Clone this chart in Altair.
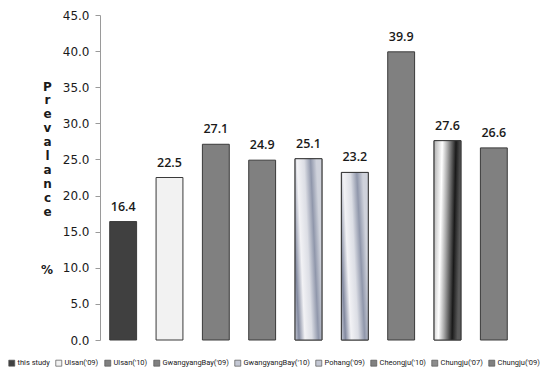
import altair as alt
import pandas as pd

categories = ["this study", "Ulsan('09)", "Ulsan('10)", "GwangyangBay('09)", "GwangyangBay('10)",
              "Pohang('09)", "Cheongju('10)", "Chungju('07)", "Chungju('09)"]
values = [16.4, 22.5, 27.1, 24.9, 25.1, 23.2, 39.9, 27.6, 26.6]
colors = ["#404040", "#f2f2f2", "#808080", "#808080", "#c4c8d4", "#c4c8d4", "#808080", "#8c8c8c", "#808080"]
blue_grad = ["GwangyangBay('10)", "Pohang('09)"]
bw_grad = ["Chungju('07)"]
y_ticks = [0, 5, 10, 15, 20, 25, 30, 35, 40, 45]
y_title = ["P", "r", "e", "v", "a", "l", "a", "n", "c", "e"]
y_title_unit = "%"

df = pd.DataFrame({"cat": categories, "val": values})

x_enc = alt.X("cat:N", sort=categories, axis=None,
              scale=alt.Scale(paddingInner=0.42, paddingOuter=0.21))
y_enc = alt.Y("val:Q", scale=alt.Scale(domain=[0, 45], nice=False),
              axis=alt.Axis(values=y_ticks, format=".1f", grid=False, labelOverlap=False,
                            domainColor="#9a9a9a", tickColor="#9a9a9a", tickSize=5,
                            labelFont="DejaVu Sans", labelFontSize=12, labelColor="#1a1a1a",
                            labelPadding=6,
                            title=y_title,
                            titleAngle=0, titleX=-53, titleY=66, titleAlign="center",
                            titleBaseline="top", titleLineHeight=13.9, titleFont="DejaVu Sans",
                            titleFontSize=12, titleFontWeight="bold", titleColor="#1a1a1a"))

base = alt.Chart(df).mark_bar(stroke="#3a3a3a", strokeWidth=1).encode(
    x=x_enc, y=y_enc,
    color=alt.Color("cat:N", sort=categories,
                    scale=alt.Scale(domain=categories, range=colors),
                    legend=alt.Legend(title=None, orient="none", legendX=-92, legendY=344,
                                      direction="horizontal", columns=9, columnPadding=4,
                                      symbolType="square", symbolSize=36, symbolStrokeColor="#555",
                                      symbolStrokeWidth=0.7, labelOffset=2,
                                      labelFont="Roboto", labelFontSize=7.5,
                                      labelColor="#1a1a1a"))
)

blue = alt.Chart(df).transform_filter(
    alt.FieldOneOfPredicate(field="cat", oneOf=blue_grad)
).mark_bar(stroke="#3a3a3a", strokeWidth=1,
           fill=alt.LinearGradient(gradient="linear", x1=0, y1=1, x2=1, y2=0.7,
                                   stops=[alt.GradientStop(offset=0, color="#c4c8d4"),
                                          alt.GradientStop(offset=0.14, color="#838aa0"),
                                          alt.GradientStop(offset=0.34, color="#f2f2f5"),
                                          alt.GradientStop(offset=0.58, color="#dcdee5"),
                                          alt.GradientStop(offset=0.8, color="#9097ab"),
                                          alt.GradientStop(offset=1, color="#cfd2db")])
).encode(x=x_enc, y=y_enc)

bw = alt.Chart(df).transform_filter(
    alt.FieldOneOfPredicate(field="cat", oneOf=bw_grad)
).mark_bar(stroke="#3a3a3a", strokeWidth=1,
           fill=alt.LinearGradient(gradient="linear", x1=0, y1=0, x2=1, y2=0.15,
                                   stops=[alt.GradientStop(offset=0, color="#b0b0b0"),
                                          alt.GradientStop(offset=0.3, color="#ffffff"),
                                          alt.GradientStop(offset=0.5, color="#a8a8a8"),
                                          alt.GradientStop(offset=0.8, color="#1a1a1a"),
                                          alt.GradientStop(offset=1, color="#5a5a5a")])
).encode(x=x_enc, y=y_enc)

labels = alt.Chart(df).mark_text(dy=-15, font="Open Sans", fontSize=12.5, fontWeight=600,
                                 color="#1a1a1a").encode(
    x=x_enc, y=y_enc, text=alt.Text("val:Q", format=".1f"))

unit = alt.Chart(pd.DataFrame({"t": [y_title_unit]})).mark_text(
    font="DejaVu Sans", fontSize=12, fontWeight="bold", color="#1a1a1a",
    align="center", baseline="middle"
).encode(text="t:N", x=alt.value(-53), y=alt.value(255))

chart = alt.layer(base, blue, bw, labels, unit).properties(
    width=417, height=325,
    autosize=alt.AutoSizeParams(type="none"),
    padding={"left": 100, "top": 15, "right": 31, "bottom": 36},
    background="white"
).configure_view(stroke=None)

chart.save("out.html", embed_options={"renderer": "svg", "actions": False})
